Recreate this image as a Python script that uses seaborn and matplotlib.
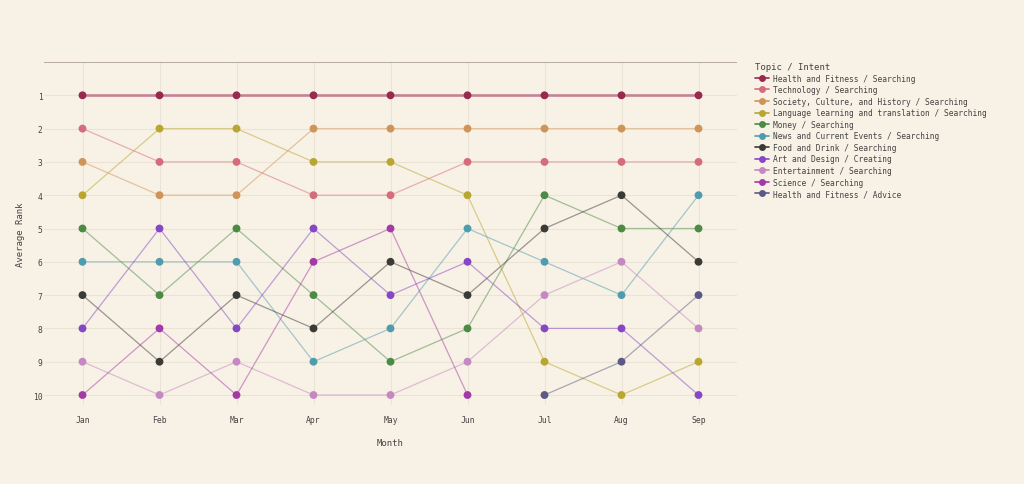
import numpy as np
import pandas as pd
import seaborn as sns
import matplotlib.pyplot as plt
from matplotlib.lines import Line2D

months = ['Jan', 'Feb', 'Mar', 'Apr', 'May', 'Jun', 'Jul', 'Aug', 'Sep']
topics = [
    'Health and Fitness / Searching',
    'Technology / Searching',
    'Society, Culture, and History / Searching',
    'Language learning and translation / Searching',
    'Money / Searching',
    'News and Current Events / Searching',
    'Food and Drink / Searching',
    'Art and Design / Creating',
    'Entertainment / Searching',
    'Science / Searching',
    'Health and Fitness / Advice',
]
nan = np.nan
health_search = [1, 1, 1, 1, 1, 1, 1, 1, 1]
technology = [2, 3, 3, 4, 4, 3, 3, 3, 3]
society = [3, 4, 4, 2, 2, 2, 2, 2, 2]
language = [4, 2, 2, 3, 3, 4, 9, 10, 9]
money = [5, 7, 5, 7, 9, 8, 4, 5, 5]
news = [6, 6, 6, 9, 8, 5, 6, 7, 4]
food = [7, 9, 7, 8, 6, 7, 5, 4, 6]
art = [8, 5, 8, 5, 7, 6, 8, 8, 10]
entertainment = [9, 10, 9, 10, 10, 9, 7, 6, 8]
science = [10, 8, 10, 6, 5, 10, nan, nan, nan]
health_advice = [nan, nan, nan, nan, nan, nan, 10, 9, 7]
ranks = [health_search, technology, society, language, money, news, food,
         art, entertainment, science, health_advice]

colors = ['#98294f', '#d66b7c', '#cf9457', '#b8a62e', '#4b8b45', '#4f9caf',
          '#3a3a36', '#8647c6', '#c488c2', '#a43aa8', '#5c5888']
palette = dict(zip(topics, colors))

rows = []
for t, r in zip(topics, ranks):
    for i, v in enumerate(r):
        if not np.isnan(v):
            rows.append({'Topic': t, 'idx': i, 'Rank': v})
df = pd.DataFrame(rows)

bg = '#f8f1e5'
txt = '#444444'
sns.set_style('white')
plt.rcParams['font.family'] = ['DejaVu Sans Mono']

fig = plt.figure(figsize=(10.24, 4.85), dpi=100, facecolor=bg)
ax = fig.add_axes([44 / 1024, 1 - 406 / 485, (737 - 44) / 1024, (406 - 63) / 485])
ax.set_facecolor(bg)

for i in range(len(months)):
    ax.axvline(i, color='#ebe3d6', lw=0.8, zorder=0)
for r in range(1, 11):
    ax.axhline(r, color='#ebe3d6', lw=0.8, zorder=0)

for t in topics:
    sub = df[df['Topic'] == t]
    lw = 2.0 if t == topics[0] else 0.9
    sns.lineplot(data=sub, x='idx', y='Rank', color=palette[t], lw=lw,
                 alpha=0.5, ax=ax, legend=False, zorder=2)
sns.scatterplot(data=df, x='idx', y='Rank', hue='Topic', palette=palette,
                s=32, edgecolor='none', ax=ax, legend=False, zorder=3)

ax.axhline(0, color='#b0a49c', lw=1.3, zorder=4)
ax.set_xlim(-0.5, 8.5)
ax.set_ylim(10.3, 0)
ax.set_xticks(range(len(months)))
ax.set_xticklabels(months)
ax.set_yticks(range(1, 11))
ax.tick_params(colors=txt, labelsize=5.8, length=0)
ax.tick_params(axis='x', pad=7)
ax.tick_params(axis='y', pad=1)
ax.set_xlabel('Month', fontsize=6.5, color=txt, labelpad=10)
ax.set_ylabel('Average Rank', fontsize=6.5, color=txt, labelpad=6)
for s in ax.spines.values():
    s.set_visible(False)

handles = [Line2D([0], [0], color=c, lw=1.2, marker='o', markersize=5,
                  markeredgewidth=0) for c in colors]
leg = fig.legend(handles, topics, title='Topic / Intent', loc='upper left',
                 bbox_to_anchor=(752 / 1024, 1 - 60 / 485), frameon=False,
                 fontsize=5.7, title_fontsize=6.5, labelspacing=0.32,
                 handlelength=1.8, handletextpad=0.4, borderaxespad=0)
leg._legend_box.align = 'left'
for tx in leg.get_texts():
    tx.set_color(txt)
leg.get_title().set_color(txt)

fig.savefig('out.png', dpi=100, facecolor=bg)
